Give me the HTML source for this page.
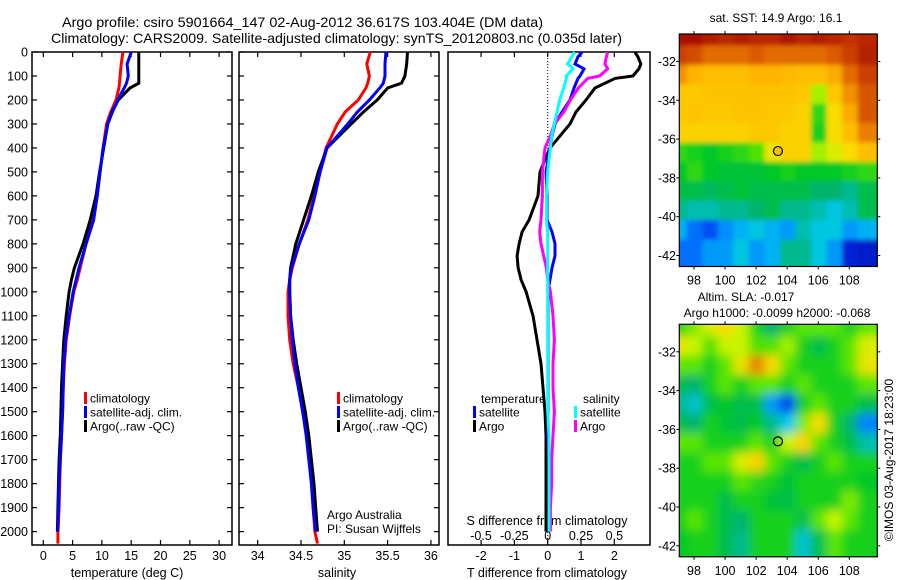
<!DOCTYPE html>
<html><head><meta charset="utf-8"><style>
html,body{margin:0;padding:0;background:#fff;}
svg{display:block;font-family:"Liberation Sans",Arial,sans-serif;}
</style></head><body>
<svg id="chart" width="900" height="580" viewBox="0 0 900 580" xmlns="http://www.w3.org/2000/svg">
<rect width="900" height="580" fill="#fff"/>
<text x="62" y="27" font-size="14" textLength="481" lengthAdjust="spacingAndGlyphs">Argo profile: csiro 5901664_147 02-Aug-2012 36.617S 103.404E (DM data)</text>
<text x="51" y="43" font-size="14" textLength="571" lengthAdjust="spacingAndGlyphs">Climatology: CARS2009. Satellite-adjusted climatology: synTS_20120803.nc (0.035d later)</text>
<g id="g"></g>
</svg>
<script>
// ---------- profile data ----------
const depths = [0,50,100,130,150,200,250,300,400,500,600,700,800,900,950,1000,1100,1200,1300,1400,1500,1600,1700,1800,1900,2000,2050];
const tempClim = [13.6,13.3,13.1,13.0,12.9,12.4,11.5,10.8,10.2,9.7,9.2,8.5,7.3,6.3,5.8,5.2,4.5,3.9,3.6,3.4,3.3,3.1,2.9,2.8,2.7,2.5,2.5];
const tempSat = [15.0,14.3,14.5,14.2,13.8,12.7,11.8,11.0,10.2,9.7,9.2,8.6,7.3,6.1,5.6,5.1,4.4,3.8,3.5,3.4,3.3,3.1,2.9,2.7,2.6,2.5];
const tempArgo = [16.3,16.3,16.3,16.3,14.8,12.8,11.7,11.0,10.3,9.6,9.0,8.0,6.8,5.3,4.8,4.4,3.9,3.5,3.3,3.1,3.0,2.9,2.7,2.6,2.5,2.4];
const salClim = [35.30,35.26,35.29,35.27,35.25,35.16,35.01,34.92,34.79,34.72,34.65,34.58,34.48,34.40,34.37,34.35,34.35,34.37,34.41,34.47,34.52,34.57,34.60,34.63,34.64,34.66,34.69];
const salSat = [35.48,35.47,35.47,35.45,35.41,35.29,35.15,35.04,34.80,34.72,34.66,34.59,34.48,34.39,34.37,34.37,34.38,34.40,34.43,34.47,34.52,34.56,34.59,34.62,34.64,34.67];
const salArgo = [35.73,35.72,35.70,35.66,35.50,35.38,35.22,35.08,34.80,34.70,34.62,34.53,34.44,34.38,34.37,34.37,34.38,34.41,34.45,34.50,34.55,34.59,34.62,34.65,34.67,34.69];
const diffDepths = [0,20,50,70,100,110,150,200,250,300,350,400,450,500,600,700,750,800,850,900,950,1000,1100,1200,1300,1400,1500,1600,1700,1800,1900,2000];
const dTsat = [1.03,0.91,0.82,1.09,0.97,0.91,0.79,0.67,0.43,0.22,0.13,0.07,0.01,-0.05,-0.02,-0.02,0.13,0.22,0.22,0.13,0.07,0.01,0.01,0.01,0.01,0.01,0.01,0.01,0.04,0.04,0.04,0.04];
const dTargo = [2.62,2.71,2.80,2.74,2.56,2.02,1.42,1.15,0.85,0.67,0.37,0.07,-0.08,-0.23,-0.29,-0.56,-0.77,-0.86,-0.92,-0.89,-0.80,-0.65,-0.44,-0.32,-0.20,-0.14,-0.08,-0.05,-0.05,-0.05,-0.05,-0.05];
const dSsat = [0.20,0.18,0.15,0.19,0.14,0.14,0.12,0.09,0.07,0.05,0.03,0.02,0.01,0.00,-0.01,-0.01,0,0,0,0,0,0,0,0,0,0,0,0.01,0.01,0.01,0.01,0.01];
const dSargo = [0.45,0.44,0.43,0.45,0.39,0.30,0.23,0.17,0.12,0.05,0.02,-0.02,-0.03,-0.04,-0.04,-0.05,-0.06,-0.05,-0.03,-0.01,0.00,0.02,0.04,0.05,0.04,0.04,0.05,0.04,0.03,0.03,0.02,0.02];
const depthTicks = [0,100,200,300,400,500,600,700,800,900,1000,1100,1200,1300,1400,1500,1600,1700,1800,1900,2000];
const tempTicks = [0,5,10,15,20,25,30];
const salTicks = [34,34.5,35,35.5,36];
const salTickLabels = ["34","34.5","35","35.5","36"];
const dTTicks = [-2,-1,0,1,2];
const dSTicks = [-0.5,-0.25,0,0.25,0.5];
const dSTickLabels = ["-0.5","-0.25","0","0.25","0.5"];
// ---------- map data ----------
const lonTicks = [98,100,102,104,106,108];
const latTicks = [-32,-34,-36,-38,-40,-42];
const argoLon = 103.404, argoLat = -36.617;
const sstGrid = [
[0.98,0.98,0.96,0.94,0.96,0.94,0.94,0.97,0.94,0.96,0.94,0.92,0.94],
[0.9,0.88,0.84,0.84,0.84,0.86,0.84,0.84,0.84,0.84,0.86,0.9,0.95],
[0.8,0.76,0.74,0.74,0.74,0.76,0.76,0.75,0.74,0.74,0.77,0.84,0.9],
[0.72,0.72,0.73,0.73,0.73,0.73,0.73,0.73,0.72,0.6,0.72,0.8,0.87],
[0.72,0.73,0.72,0.72,0.73,0.73,0.72,0.72,0.7,0.52,0.68,0.77,0.87],
[0.7,0.7,0.7,0.7,0.7,0.72,0.72,0.7,0.7,0.5,0.68,0.74,0.82],
[0.52,0.5,0.48,0.5,0.52,0.55,0.66,0.7,0.7,0.6,0.64,0.68,0.74],
[0.48,0.52,0.48,0.46,0.46,0.46,0.48,0.5,0.48,0.48,0.48,0.5,0.52],
[0.44,0.44,0.42,0.44,0.46,0.44,0.44,0.44,0.44,0.4,0.4,0.38,0.44],
[0.38,0.36,0.36,0.38,0.38,0.4,0.44,0.38,0.38,0.36,0.33,0.36,0.44],
[0.3,0.24,0.2,0.27,0.3,0.33,0.3,0.28,0.36,0.33,0.33,0.28,0.3],
[0.24,0.24,0.28,0.28,0.33,0.28,0.3,0.38,0.38,0.33,0.28,0.12,0.1]];
const slaGrid = [
[0.5,0.58,0.64,0.68,0.62,0.5,0.4,0.5,0.56,0.56,0.56,0.5,0.56],
[0.66,0.62,0.55,0.62,0.62,0.55,0.55,0.6,0.5,0.44,0.5,0.56,0.64],
[0.56,0.56,0.5,0.56,0.66,0.82,0.68,0.56,0.5,0.5,0.5,0.56,0.66],
[0.44,0.4,0.5,0.56,0.5,0.56,0.56,0.5,0.56,0.5,0.5,0.5,0.56],
[0.38,0.34,0.44,0.48,0.44,0.44,0.28,0.18,0.5,0.56,0.5,0.5,0.44],
[0.44,0.4,0.5,0.46,0.44,0.48,0.38,0.32,0.58,0.68,0.5,0.4,0.26],
[0.56,0.56,0.5,0.5,0.5,0.56,0.5,0.62,0.7,0.56,0.5,0.44,0.36],
[0.5,0.5,0.56,0.56,0.64,0.7,0.56,0.5,0.44,0.5,0.56,0.5,0.5],
[0.5,0.5,0.5,0.5,0.56,0.52,0.5,0.46,0.5,0.5,0.5,0.5,0.48],
[0.5,0.5,0.5,0.44,0.5,0.5,0.46,0.44,0.5,0.5,0.5,0.58,0.5],
[0.5,0.56,0.5,0.44,0.4,0.5,0.5,0.5,0.44,0.56,0.62,0.56,0.5],
[0.48,0.5,0.5,0.44,0.38,0.5,0.5,0.5,0.34,0.44,0.56,0.5,0.5]];

const NS="http://www.w3.org/2000/svg";
const G=document.getElementById('g');
function el(tag,attrs,parent){const e=document.createElementNS(NS,tag);for(const k in attrs)e.setAttribute(k,attrs[k]);(parent||G).appendChild(e);return e;}
function txt(s,x,y,anchor,size,parent){const t=el('text',{x:x,y:y,'text-anchor':anchor||'start','font-size':size||12},parent);t.textContent=s;return t;}

const yD = d => 52 + d*0.2398;
const xT = t => 43.3 + t*5.86;
const xS = s => 257.7 + (s-34)*86.6;
const xDT = v => 547.7 + v*33.3;
const xDS = v => 547.7 + v*133.3;
const TOP=52, BOT=545;

function panel(x0,x1,name){
  const r=el('rect',{x:x0,y:TOP,width:x1-x0,height:BOT-TOP,fill:'none',stroke:'#000','stroke-width':1.5});
  
  
}
panel(32,232,'temperature-panel');
panel(239,439,'salinity-panel');
panel(448,650,'difference-panel');

depthTicks.forEach(d=>{
  const y=yD(d);
  [[32,37],[227,232],[239,244],[434,439]].forEach(p=>el('line',{x1:p[0],x2:p[1],y1:y,y2:y,stroke:'#000','stroke-width':1.2}));
  const t=txt(String(d),28,y+4.5,'end',12.5);
  
  
});
function xticks(vals,labels,fx,ly,name){
  vals.forEach((v,i)=>{
    const x=fx(v);
    el('line',{x1:x,x2:x,y1:TOP,y2:TOP+5,stroke:'#000','stroke-width':1.2});
    el('line',{x1:x,x2:x,y1:BOT,y2:BOT-5,stroke:'#000','stroke-width':1.2});
    const t=txt(labels[i],x,ly,'middle',12.5);
    
    
  });
}
xticks(tempTicks,tempTicks.map(String),xT,560,'temperature-tick-label');
xticks(salTicks,salTickLabels,xS,560,'salinity-tick-label');
xticks(dTTicks,dTTicks.map(String),xDT,560,'t-diff-tick-label');
dSTicks.forEach((v,i)=>{const t=txt(dSTickLabels[i],xDS(v),540,'middle',12.5);
  
  });

let t;
t=txt('temperature (deg C)',127,577,'middle',12.5);


t=txt('salinity',337,577,'middle',12.5);


t=txt('T difference from climatology',547,577,'middle',12.5);


t=txt('S difference from climatology',547,525,'middle',12.5);



const z=el('line',{x1:xDT(0),x2:xDT(0),y1:TOP,y2:BOT,stroke:'#000','stroke-width':1,'stroke-dasharray':'1,2'});



function series(vals,dep,fx,color,name){
  const pts=vals.map((v,i)=>fx(v).toFixed(1)+','+yD(dep[i]).toFixed(1)).join(' ');
  const p=el('polyline',{points:pts,fill:'none',stroke:color,'stroke-width':3,'stroke-linejoin':'miter'});
  
  
}
series(tempClim,depths,xT,'#f00','temperature-climatology-line');
series(tempArgo,depths,xT,'#000','temperature-argo-line');
series(tempSat,depths,xT,'#00f','temperature-satellite-line');
series(salClim,depths,xS,'#f00','salinity-climatology-line');
series(salArgo,depths,xS,'#000','salinity-argo-line');
series(salSat,depths,xS,'#00f','salinity-satellite-line');
series(dTargo,diffDepths,xDT,'#000','t-diff-argo-line');
series(dTsat,diffDepths,xDT,'#00f','t-diff-satellite-line');
series(dSargo,diffDepths,xDS,'#f0f','s-diff-argo-line');
series(dSsat,diffDepths,xDS,'#0ff','s-diff-satellite-line');

function legend(x,y,color,label,name){
  const g=el('g',{});
  
  
  el('rect',{x:x,y:y-6,width:3,height:12,fill:color},g);
  txt(label,x+6,y+4.5,'start',12,g);
}
legend(84,398,'#f00','climatology','legend-climatology');
legend(84,412,'#00f','satellite-adj. clim.','legend-satellite-adj');
legend(84,426,'#000','Argo(..raw -QC)','legend-argo');
legend(337,398,'#f00','climatology','legend-climatology-sal');
legend(337,412,'#00f','satellite-adj. clim.','legend-satellite-adj-sal');
legend(337,426,'#000','Argo(..raw -QC)','legend-argo-sal');
t=txt('temperature',481,403,'start',12);


t=txt('salinity',583,403,'start',12);


legend(473,412,'#00f','satellite','legend-t-satellite');
legend(473,426,'#000','Argo','legend-t-argo');
legend(574,412,'#0ff','satellite','legend-s-satellite');
legend(574,426,'#f0f','Argo','legend-s-argo');
t=txt('Argo Australia',327,519,'start',12);


t=txt('PI: Susan Wijffels',327,533,'start',12);



// ---------- maps ----------
const stops=[[0,[0,0,150]],[0.15,[0,40,230]],[0.25,[0,120,255]],[0.32,[0,200,240]],[0.4,[0,180,110]],[0.48,[0,200,40]],[0.56,[90,230,0]],[0.62,[200,245,0]],[0.68,[250,220,0]],[0.76,[255,180,0]],[0.86,[220,90,0]],[1,[160,0,0]]];
function cmap(v){
  for(let i=1;i<stops.length;i++){if(v<=stops[i][0]){const a=stops[i-1],b=stops[i],f=(v-a[0])/(b[0]-a[0]);
    const c=a[1].map((x,k)=>Math.round(x+(b[1][k]-x)*f));return 'rgb('+c.join(',')+')';}}
  return 'rgb(160,0,0)';
}
function drawMap(top,grid,name,blur,fill){
  const L=679.3,R=877.3,B=top+232.5;
  const xL=lon=>694+(lon-98)*15.53;
  const yL=lat=>top+27.5+(-32-lat)*19.4;
  const fid='clip'+name;
  const cp=el('clipPath',{id:fid});el('rect',{x:L,y:top,width:R-L,height:B-top},cp);
  const g=el('g',{'clip-path':'url(#'+fid+')'});
  
  
  const inner=el('g',blur?{filter:'url(#'+blur+')'}:{},g);
  const lat0=-30.59, lon0=97.05;
  grid.forEach((row,r)=>row.forEach((v,c)=>{
    const x=xL(lon0+c), y=yL(lat0-r);
    const cell=el('rect',{x:x-8,y:y-8,width:15.53+16.5,height:19.4+16.5,fill:cmap(v)},inner);
    
    
  }));
  const fr=el('rect',{x:L,y:top,width:R-L,height:B-top,fill:'none',stroke:'#000','stroke-width':1.2});
  
  
  lonTicks.forEach(lon=>{const x=xL(lon);
    el('line',{x1:x,x2:x,y1:top,y2:top-3,stroke:'#000'});el('line',{x1:x,x2:x,y1:B,y2:B+3,stroke:'#000'});
    const tl=txt(String(lon),x,B+18,'middle',12.5);
    
    });
  latTicks.forEach(lat=>{const y=yL(lat);
    el('line',{x1:L,x2:L-3,y1:y,y2:y,stroke:'#000'});el('line',{x1:R,x2:R+3,y1:y,y2:y,stroke:'#000'});
    const tl=txt(String(lat),676,y+4.5,'end',12.5);
    
    });
  const c=el('circle',{cx:xL(argoLon),cy:yL(argoLat),r:4.5,fill:fill,stroke:'#000','stroke-width':1.2});
  
  
}
const defs=el('defs',{});
const f=el('filter',{id:'blur',x:'-10%',y:'-10%',width:'120%',height:'120%'},defs);
el('feGaussianBlur',{stdDeviation:'5'},f);
const f2=el('filter',{id:'blur2',x:'-10%',y:'-10%',width:'120%',height:'120%'},defs);
el('feGaussianBlur',{stdDeviation:'2.5'},f2);
drawMap(34,sstGrid,'sst-map','blur2','#f8c000');
drawMap(324.3,slaGrid,'sla-map','blur','none');

t=txt('sat. SST: 14.9 Argo: 16.1',776,22,'middle',12);


t=txt('Altim. SLA: -0.017',746,301,'middle',12);


t=txt('Argo h1000: -0.0099 h2000: -0.068',777,317,'middle',12);


t=txt('©IMOS 03-Aug-2017 18:23:00',0,0,'middle',12);
t.setAttribute('transform','translate(893,460) rotate(-90)');


</script>
</body></html>
